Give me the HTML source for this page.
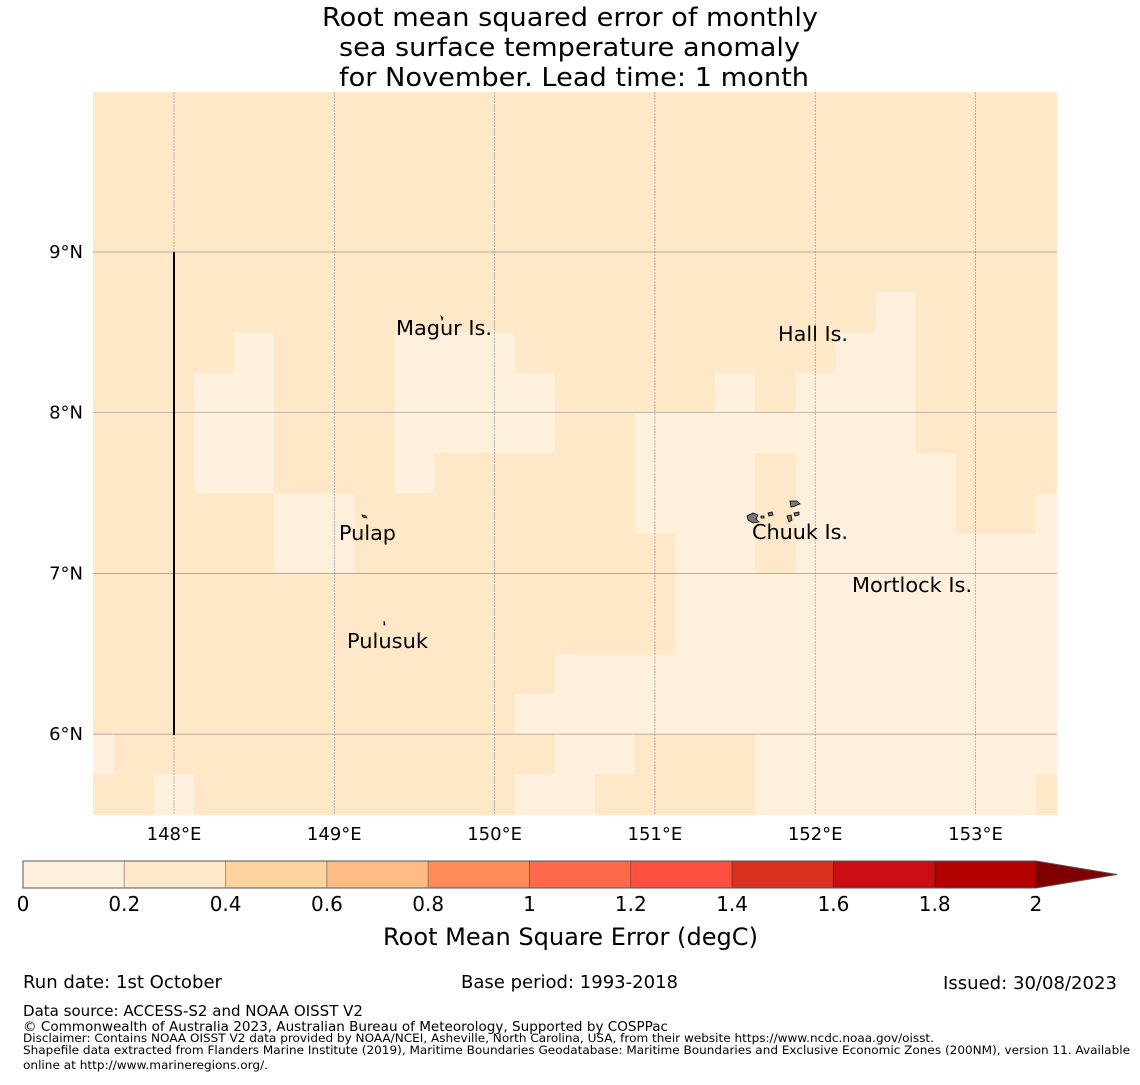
<!DOCTYPE html>
<html><head><meta charset="utf-8"><style>
html,body{margin:0;padding:0;background:#fff;}
svg text{font-family:"DejaVu Sans","Liberation Sans",sans-serif;}
</style></head><body>
<svg id="chart" width="1140" height="1080" viewBox="0 0 1140 1080" xmlns="http://www.w3.org/2000/svg">
<g font-size="26" fill="#000">
<text x="322" y="26" textLength="496" lengthAdjust="spacingAndGlyphs">Root mean squared error of monthly</text>
<text x="339" y="56" textLength="461" lengthAdjust="spacingAndGlyphs">sea surface temperature anomaly</text>
<text x="339" y="86" textLength="470" lengthAdjust="spacingAndGlyphs">for November. Lead time: 1 month</text>
</g>
<defs><clipPath id="mapclip"><rect x="93" y="92" width="964" height="723"/></clipPath></defs>
<g id="cells" clip-path="url(#mapclip)"></g>
<g id="grid"></g>
<line x1="174" y1="252" x2="174" y2="735" stroke="#000" stroke-width="2"/>
<g fill="#777" stroke="#000" stroke-width="0.8">
<path d="M747 516 l6 -3 l5 2 l-2 4 l3 3 l-6 1 l-5 -3z"/>
<path d="M768 513 l4 -1 l1 3 l-4 1z"/>
<path d="M790 501 l7 0 l3 3 l-5 2 l-4 1z"/>
<path d="M787 516 l4 -1 l1 5 l-3 2z"/>
<path d="M794 513 l5 -1 l0 3 l-4 1z"/>
<path d="M761 516 l3 0 l0 2 l-3 0z"/>
<path d="M362 515 l4 1 l1 2 l-4 -1z"/>
<path d="M441 316 l2 2 l-1 2z"/>
<path d="M384 621 l1 4 l-1 0z"/>
</g>
<g font-size="20" fill="#000">
<text x="396" y="335" textLength="96" lengthAdjust="spacingAndGlyphs">Magur Is.</text>
<text x="778" y="341" textLength="70" lengthAdjust="spacingAndGlyphs">Hall Is.</text>
<text x="339" y="540" textLength="57" lengthAdjust="spacingAndGlyphs">Pulap</text>
<text x="752" y="539" textLength="96" lengthAdjust="spacingAndGlyphs">Chuuk Is.</text>
<text x="852" y="592" textLength="120" lengthAdjust="spacingAndGlyphs">Mortlock Is.</text>
<text x="347" y="648" textLength="81" lengthAdjust="spacingAndGlyphs">Pulusuk</text>
</g>
<g id="axes" font-size="18" fill="#000"></g>
<g id="cbar"></g>
<text x="383" y="945" font-size="24" textLength="375" lengthAdjust="spacingAndGlyphs">Root Mean Square Error (degC)</text>
<g fill="#000">
<text x="23" y="988" font-size="18" textLength="199" lengthAdjust="spacingAndGlyphs">Run date: 1st October</text>
<text x="461" y="988" font-size="18" textLength="217" lengthAdjust="spacingAndGlyphs">Base period: 1993-2018</text>
<text x="943" y="989" font-size="18" textLength="174" lengthAdjust="spacingAndGlyphs">Issued: 30/08/2023</text>
<text x="23" y="1016" font-size="15" textLength="340" lengthAdjust="spacingAndGlyphs">Data source: ACCESS-S2 and NOAA OISST V2</text>
<text x="23" y="1031" font-size="13" textLength="645" lengthAdjust="spacingAndGlyphs">© Commonwealth of Australia 2023, Australian Bureau of Meteorology, Supported by COSPPac</text>
<text x="23" y="1042" font-size="11.5" textLength="911" lengthAdjust="spacingAndGlyphs">Disclaimer: Contains NOAA OISST V2 data provided by NOAA/NCEI, Asheville, North Carolina, USA, from their website https://www.ncdc.noaa.gov/oisst.</text>
<text x="23" y="1054" font-size="11.5" textLength="1107" lengthAdjust="spacingAndGlyphs">Shapefile data extracted from Flanders Marine Institute (2019), Maritime Boundaries Geodatabase: Maritime Boundaries and Exclusive Economic Zones (200NM), version 11. Available</text>
<text x="23" y="1069" font-size="11.5" textLength="245" lengthAdjust="spacingAndGlyphs">online at http://www.marineregions.org/.</text>
</g>
</svg>
<script>
// Grid: rows from 10.0N southward in 0.25 deg steps; columns from 147.375E in 0.25 deg steps
const rowTopLats = [10.0,9.75,9.5,9.25,9.0,8.75,8.5,8.25,8.0,7.75,7.5,7.25,7.0,6.75,6.5,6.25,6.0,5.75];
const colWestLons = [147.375,147.625,147.875,148.125,148.375,148.625,148.875,149.125,149.375,149.625,149.875,150.125,150.375,150.625,150.875,151.125,151.375,151.625,151.875,152.125,152.375,152.625,152.875,153.125,153.375];
const rmse = [
"3333333333333333333333333",
"3333333333333333333333333",
"3333333333333333333333333",
"3333333333333333333333333",
"3333333333333333333333333",
"3333333333333333333313333",
"3333133311133333333113333",
"3331133311113333131113333",
"3331133311113311111113333",
"3331133313333311131111333",
"3333311333333311131111331",
"3333311333333331131111111",
"3333333333333331111111111",
"3333333333333331111111111",
"3333333333331111111111111",
"3333333333311111111111111",
"1333333333331133311111111",
"3313333333311333311111113"
];
const valueOf = {"1":0.15,"3":0.3};
const levels = [0,0.2,0.4,0.6,0.8,1,1.2,1.4,1.6,1.8,2];
const levelColors = ["#fff0de","#fee8c8","#fdd49e","#fdbb84","#fc8d59","#fd6a4b","#fe5040","#d7301f","#c90d12","#b30000"];
const extendColor = "#7f0000";
const lonTicks = [148,149,150,151,152,153];
const latTicks = [9,8,7,6];
const cbTickLabels = ["0","0.2","0.4","0.6","0.8","1","1.2","1.4","1.6","1.8","2"];

const NS="http://www.w3.org/2000/svg";
const xOf = lon => 174 + (lon-148)*160.3;
const yOf = lat => 252 + (9-lat)*160.7;
function colorOf(v){for(let i=0;i<levels.length-1;i++){if(v<levels[i+1])return levelColors[i];}return extendColor;}
function mk(tag,attrs,parent){const e=document.createElementNS(NS,tag);for(const k in attrs)e.setAttribute(k,attrs[k]);parent.appendChild(e);return e;}

const cells=document.getElementById('cells');
rmse.forEach((row,r)=>{
  [...row].forEach((ch,c)=>{
    const v=valueOf[ch];
    const x0=xOf(colWestLons[c]), x1=xOf(colWestLons[c]+0.25);
    const y0=yOf(rowTopLats[r]), y1=yOf(rowTopLats[r]-0.25);
    const e=mk('rect',{x:x0,y:y0,width:x1-x0+0.6,height:y1-y0+0.6,fill:colorOf(v)},cells);
    
    
  });
});

const grid=document.getElementById('grid');
lonTicks.forEach(l=>{const e=mk('line',{x1:xOf(l),x2:xOf(l),y1:92,y2:815,stroke:'#777','stroke-width':0.7,'stroke-dasharray':'2,1',opacity:0.7},grid);
});
latTicks.forEach(l=>{const e=mk('line',{x1:93,x2:1057,y1:yOf(l),y2:yOf(l),stroke:'#777','stroke-width':0.7,opacity:0.7},grid);
});

const axes=document.getElementById('axes');
lonTicks.forEach(l=>{const t=mk('text',{x:xOf(l),y:840,'text-anchor':'middle'},axes);t.textContent=l+'°E';
});
latTicks.forEach(l=>{const t=mk('text',{x:83,y:yOf(l)+6,'text-anchor':'end'},axes);t.textContent=l+'°N';
});

const cb=document.getElementById('cbar');
const cbX=23, cbW=1013, cbY=861, cbH=27;
const cx = v => cbX + (v-levels[0])/(levels[levels.length-1]-levels[0])*cbW;
levelColors.forEach((c,i)=>{const e=mk('rect',{x:cx(levels[i]),y:cbY,width:cx(levels[i+1])-cx(levels[i]),height:cbH,fill:c,stroke:'rgba(0,0,0,0.25)','stroke-width':1},cb);
});
const ar=mk('polygon',{points:`${cx(2)},${cbY} 1117,${cbY+cbH/2} ${cx(2)},${cbY+cbH}`,fill:extendColor},cb);

const ol=mk('path',{d:`M${cbX},${cbY} H${cx(2)} L1117,${cbY+cbH/2} L${cx(2)},${cbY+cbH} H${cbX} Z`,fill:'none',stroke:'#555','stroke-width':1},cb);

cbTickLabels.forEach((s,i)=>{const t=mk('text',{x:cx(levels[i]),y:911,'font-size':20,'text-anchor':'middle'},cb);t.textContent=s;
});
</script>
</body></html>
